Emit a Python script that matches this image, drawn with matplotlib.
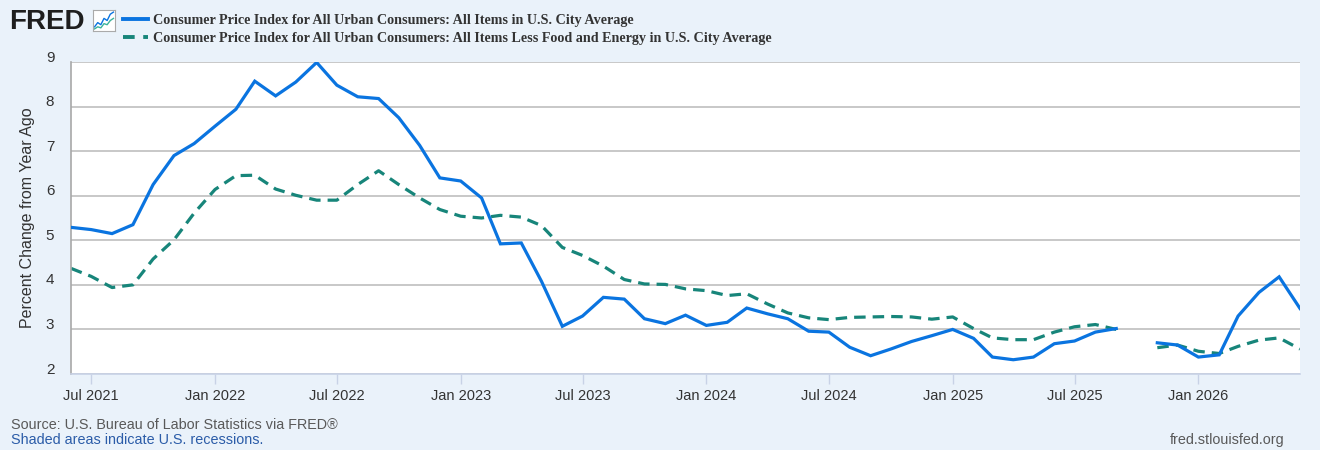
import numpy as np
import pandas as pd
import matplotlib
matplotlib.use("Agg")
import matplotlib.pyplot as plt
import matplotlib.dates as mdates
from matplotlib.lines import Line2D
from matplotlib.transforms import ScaledTranslation

# ── Data (percent change from year ago, monthly) ─────────────────────────────
months = pd.date_range("2021-06-01", "2026-06-01", freq="MS")

cpi_all = [
    5.29, 5.24, 5.15, 5.35, 6.25, 6.90, 7.17,                               # 2021 Jun-Dec
    7.56, 7.94, 8.57, 8.24, 8.55, 8.99, 8.48, 8.22, 8.18, 7.75, 7.13, 6.40,  # 2022
    6.33, 5.95, 4.92, 4.94, 4.08, 3.07, 3.30, 3.72, 3.68, 3.24, 3.13, 3.32,  # 2023
    3.09, 3.16, 3.48, 3.35, 3.24, 2.96, 2.94, 2.60, 2.41, 2.56, 2.73, 2.86,  # 2024
    3.00, 2.80, 2.38, 2.32, 2.38, 2.68, 2.74, 2.94, 3.02, np.nan, 2.70, 2.65,  # 2025
    2.38, 2.43, 3.30, 3.83, 4.18, 3.47,                                     # 2026 Jan-Jun
]
cpi_core = [
    4.37, 4.19, 3.94, 4.00, 4.58, 5.01, 5.61,
    6.14, 6.45, 6.46, 6.15, 6.01, 5.90, 5.90, 6.25, 6.56, 6.25, 5.95, 5.69,
    5.54, 5.50, 5.56, 5.52, 5.33, 4.84, 4.66, 4.42, 4.12, 4.02, 4.01, 3.91,
    3.87, 3.76, 3.80, 3.57, 3.37, 3.26, 3.22, 3.27, 3.28, 3.29, 3.28, 3.23,
    3.28, 3.02, 2.81, 2.77, 2.77, 2.94, 3.06, 3.11, 3.00, np.nan, 2.59, 2.65,
    2.51, 2.46, 2.62, 2.76, 2.81, 2.56,
]

label_all = "Consumer Price Index for All Urban Consumers: All Items in U.S. City Average"
label_core = ("Consumer Price Index for All Urban Consumers: All Items Less Food and Energy "
              "in U.S. City Average")
y_ticks = [2, 3, 4, 5, 6, 7, 8, 9]

BG = "#eaf2fa"
BLUE = "#0a74e0"
TEAL = "#17857a"
SANS = "Liberation Sans"

fig = plt.figure(figsize=(13.2, 4.5), dpi=100, facecolor=BG)
ax = fig.add_axes([71 / 1320, 1 - 374 / 450, 1229 / 1320, 312 / 450])
ax.set_facecolor("white")

ax.plot(months, cpi_all, color=BLUE, lw=2.3, solid_joinstyle="miter", zorder=3)
ax.plot(months, cpi_core, color=TEAL, lw=2.3, linestyle=(0, (3.6, 2.2)), zorder=2)

ax.set_xlim(months[0], months[-1])
ax.set_ylim(2, 9)
ax.set_yticks(y_ticks)
ax.grid(axis="y", color="#c4c4c4", lw=1.3)
ax.set_axisbelow(True)

ax.xaxis.set_major_locator(mdates.MonthLocator(bymonth=[1, 7]))
ax.xaxis.set_major_formatter(mdates.DateFormatter("%b %Y"))

for side in ["top", "right"]:
    ax.spines[side].set_visible(False)
ax.spines["left"].set_color("#a8a8a8")
ax.spines["bottom"].set_color("#c8d2e6")
ax.spines["left"].set_linewidth(1.2)
ax.spines["bottom"].set_linewidth(1.2)

ax.tick_params(axis="y", length=0, pad=12, labelsize=11, labelcolor="#333333")
ax.tick_params(axis="x", length=7, color="#c8d2e6", width=1, pad=4,
               labelsize=10.5, labelcolor="#333333")
for lab in ax.get_yticklabels() + ax.get_xticklabels():
    lab.set_fontfamily(SANS)
for lab in ax.get_yticklabels():
    lab.set_transform(lab.get_transform() + ScaledTranslation(0, 6 / 100, fig.dpi_scale_trans))

ax.set_ylabel("Percent Change from Year Ago", fontsize=11.5, color="#333333",
              family=SANS, labelpad=8)

# ── Header: logo + legend ────────────────────────────────────────────────────
fig.text(9 / 1320, 1 - 22 / 450, "FRED", fontsize=20, fontweight="bold",
         family=SANS, color="#1e1e1e", va="center", ha="left")
icon = fig.add_axes([93 / 1320, 1 - 31 / 450, 22 / 1320, 21 / 450])
icon.set_facecolor("white")
icon.set_xticks([])
icon.set_yticks([])
for s in icon.spines.values():
    s.set_color("#aaaaaa")
    s.set_linewidth(0.8)
icon_x = [0, 1, 2, 3, 4, 5, 6]
icon.plot(icon_x, [2, 4, 3, 6, 5, 8, 9], color=BLUE, lw=1)
icon.plot(icon_x, [1, 2, 1.5, 3.5, 3, 5, 6], color="#3bb39b", lw=1)
icon.set_xlim(-0.5, 6.5)
icon.set_ylim(0, 10)

handles = [Line2D([], [], color=BLUE, lw=2.8),
           Line2D([], [], color=TEAL, lw=2.8, linestyle=(0, (3.0, 2.2)))]
fig.legend(handles, [label_all, label_core], loc="upper left",
           bbox_to_anchor=(110 / 1320, 1 - 1 / 450), frameon=False,
           handlelength=1.75, handletextpad=0.4, labelspacing=0.4,
           prop={"family": "Liberation Serif", "weight": "bold", "size": 10.2},
           labelcolor="#333333")

# ── Footer ───────────────────────────────────────────────────────────────────
fig.text(11 / 1320, 1 - 425 / 450, "Source: U.S. Bureau of Labor Statistics via FRED®",
         fontsize=10.4, family=SANS, color="#595959", va="center")
fig.text(11 / 1320, 1 - 440 / 450, "Shaded areas indicate U.S. recessions.",
         fontsize=10.4, family=SANS, color="#2b5ca8", va="center")
fig.text(1284 / 1320, 1 - 440 / 450, "fred.stlouisfed.org",
         fontsize=10.4, family=SANS, color="#595959", va="center", ha="right")

fig.savefig("out.png", dpi=100, facecolor=BG)
